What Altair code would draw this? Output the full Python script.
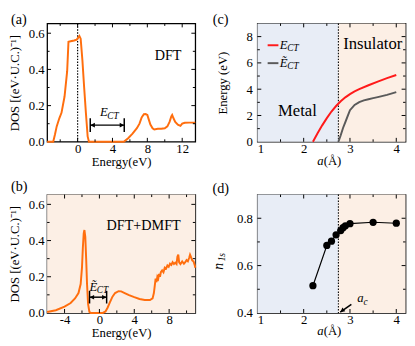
import altair as alt
import pandas as pd

FONT = "Liberation Serif"
W, H = 151.5, 121
ORANGE = "#FF6E0E"
RED = "#FF1A1A"
GREY = "#5A5A5A"
BLUE_BG = "#E8EDF6"
PEACH_BG = "#FCEFE5"

# ---------------- data ----------------
# (a) DFT density of states
a_energy = [-3.5, -2.8, -2.6, -2.4, -2.1, -1.85, -1.5, -1.2, -1.05, -0.8, -0.4, -0.1, 0.1, 0.2, 0.35,
            0.55, 0.75, 0.95, 1.15, 1.3, 5.3, 5.8, 6.3, 6.8, 7.1, 7.35, 7.6, 7.8, 8.0, 8.15, 8.35,
            8.6, 8.8, 9.2, 9.6, 10.0, 10.3, 10.55, 10.75, 10.85, 11.0, 11.2, 11.5, 11.8, 12.0, 12.3,
            12.8, 13.5]
a_dos = [0.0, 0.0, 0.04, 0.085, 0.13, 0.16, 0.25, 0.39, 0.553, 0.556, 0.56, 0.565, 0.578, 0.585, 0.57,
         0.45, 0.3, 0.16, 0.03, 0.0, 0.0, 0.02, 0.045, 0.075, 0.1, 0.135, 0.152, 0.153, 0.148, 0.125,
         0.095, 0.075, 0.068, 0.072, 0.072, 0.075, 0.085, 0.11, 0.14, 0.148, 0.13, 0.11, 0.095, 0.088,
         0.1, 0.105, 0.106, 0.106]
a_ect_span = [1.45, 5.35]
a_ect_level = 0.092

# (b) DFT+DMFT density of states
b_energy = [-6.0, -5.0, -4.0, -3.3, -2.8, -2.4, -2.15, -2.0, -1.9, -1.8, -1.72, -1.62, -1.52, -1.42,
            -1.3, -1.15, -1.0, 0.4, 0.7, 0.95, 1.2, 1.5, 1.8, 2.2, 2.5, 2.9, 3.4, 4.0, 4.6, 5.2, 5.8,
            6.1, 6.25, 6.35, 6.45, 6.55, 6.65, 6.75, 6.85, 6.95, 7.05, 7.2, 7.35, 7.5, 7.65, 7.8, 7.95,
            8.1, 8.25, 8.4, 8.55, 8.7, 8.85, 8.95, 9.05, 9.15, 9.3, 9.5, 9.7, 9.85, 10.0, 10.15, 10.3,
            10.4, 10.5, 10.65, 10.8, 10.95, 11.0]
b_dos = [0.005, 0.015, 0.035, 0.055, 0.08, 0.11, 0.16, 0.25, 0.36, 0.44, 0.458, 0.42, 0.3, 0.16,
         0.05, 0.005, 0.0, 0.0, 0.008, 0.03, 0.058, 0.09, 0.11, 0.12, 0.119, 0.11, 0.098, 0.087, 0.077,
         0.071, 0.071, 0.08, 0.11, 0.15, 0.19, 0.17, 0.2, 0.19, 0.215, 0.2, 0.225, 0.235, 0.225, 0.25,
         0.245, 0.262, 0.255, 0.272, 0.265, 0.28, 0.27, 0.278, 0.27, 0.31, 0.322, 0.28, 0.27, 0.285,
         0.272, 0.28, 0.292, 0.285, 0.305, 0.322, 0.31, 0.29, 0.285, 0.262, 0.25]
b_ect_span = [-1.13, 0.83]
b_ect_level = 0.087

# (c) charge-transfer energies vs a
c_a_red = [2.2, 2.3, 2.4, 2.5, 2.6, 2.7, 2.8, 2.9, 3.0, 3.1, 3.2, 3.4, 3.6, 3.8, 4.0]
c_ect = [0.0, 0.65, 1.25, 1.8, 2.3, 2.72, 3.08, 3.38, 3.62, 3.83, 4.0, 4.3, 4.58, 4.84, 5.08]
c_a_grey = [2.75, 2.8, 2.85, 2.9, 2.95, 3.0, 3.1, 3.2, 3.3, 3.4, 3.5, 3.6, 3.8, 4.0]
c_ect_tilde = [0.0, 0.5, 1.05, 1.5, 1.95, 2.4, 2.8, 3.02, 3.15, 3.24, 3.32, 3.4, 3.57, 3.78]

# (d) occupation n_1s vs a
d_a = [2.2, 2.5, 2.6, 2.7, 2.8, 2.85, 2.9, 3.0, 3.5, 4.0]
d_n1s = [0.515, 0.685, 0.703, 0.73, 0.748, 0.76, 0.768, 0.777, 0.783, 0.779]

a_c = 2.75
regions = ["Metal", "Insulator"]
region_start = [1.0, 2.75]
region_end = [2.75, 4.2]

# ---------------- helpers ----------------
ONE = alt.Data(values=[{}])


def make_xy(xdom, ydom, xaxis, yaxis):
    xs = alt.Scale(domain=xdom, nice=False, zero=False)
    ys = alt.Scale(domain=ydom, nice=False, zero=False)

    def X(f):
        return alt.X(f, type="quantitative", scale=xs, axis=xaxis)

    def Y(f):
        return alt.Y(f, type="quantitative", scale=ys, axis=yaxis)
    return X, Y


def ticks(X, Y, xmaj, xmin, ymaj, ymin):
    layers = []
    for vals, L in ((xmaj, 4), (xmin, 2.5)):
        base = alt.Chart(pd.DataFrame({"v": vals})).mark_rule(color="black", strokeWidth=1)
        layers.append(base.encode(x=X("v"), y=alt.value(H), y2=alt.value(H - L)))
        layers.append(base.encode(x=X("v"), y=alt.value(0), y2=alt.value(L)))
    for vals, L in ((ymaj, 4), (ymin, 2.5)):
        base = alt.Chart(pd.DataFrame({"v": vals})).mark_rule(color="black", strokeWidth=1)
        layers.append(base.encode(y=Y("v"), x=alt.value(0), x2=alt.value(L)))
        layers.append(base.encode(y=Y("v"), x=alt.value(W), x2=alt.value(W - L)))
    return layers


def label(text, x, y, size=13, italic=False, align="left", baseline="alphabetic", angle=0, color="black"):
    kw = dict(text=text, fontSize=size, align=align, baseline=baseline, color=color, font=FONT)
    if italic:
        kw["fontStyle"] = "italic"
    if angle:
        kw["angle"] = angle
    return alt.Chart(ONE).mark_text(**kw).encode(x=alt.value(x), y=alt.value(y))


def gap_arrow(X, Y, span, level, cap):
    df = pd.DataFrame({"x1": [span[0]], "x2": [span[1]], "y": [level]})
    line = alt.Chart(df).mark_rule(color="black", strokeWidth=1.5).encode(
        x=X("x1"), x2=alt.X2("x2"), y=Y("y"))
    caps_df = pd.DataFrame({"x": span, "y1": [level - cap] * 2, "y2": [level + cap] * 2})
    caps = alt.Chart(caps_df).mark_rule(color="black", strokeWidth=1.5).encode(
        x=X("x"), y=Y("y1"), y2=alt.Y2("y2"))
    hl = alt.Chart(pd.DataFrame({"x": [span[0]], "y": [level]})).mark_point(
        shape="M0,0L2,-1L2,1Z", size=22, filled=True, color="black", opacity=1).encode(x=X("x"), y=Y("y"))
    hr = alt.Chart(pd.DataFrame({"x": [span[1]], "y": [level]})).mark_point(
        shape="M0,0L-2,-1L-2,1Z", size=22, filled=True, color="black", opacity=1).encode(x=X("x"), y=Y("y"))
    return [line, caps, hl, hr]


# ---------------- panel (a) ----------------
Xa, Ya = make_xy([-3.5, 13.5], [0, 0.654],
                 alt.Axis(values=[0, 4, 8, 12], title="Energy(eV)", titleY=14.5, labelPadding=0.5),
                 alt.Axis(values=[0, 0.2, 0.4, 0.6], format=".1f", title="DOS [(eV·U.C.)⁻¹]",
                          titlePadding=7, labelPadding=3))
dfa = pd.DataFrame({"e": a_energy, "d": a_dos})
pa = alt.layer(
    alt.Chart(pd.DataFrame({"v": [0]})).mark_rule(color="black", strokeWidth=1.2, strokeDash=[1.5, 1.5]).encode(
        x=Xa("v"), y=alt.value(0), y2=alt.value(H)),
    alt.Chart(dfa).mark_line(color=ORANGE, strokeWidth=2).encode(x=Xa("e"), y=Ya("d")),
    *gap_arrow(Xa, Ya, a_ect_span, a_ect_level, 0.038),
    label("E", 54, 95, 13, italic=True),
    label("CT", 61.5, 97.5, 9.5, italic=True),
    label("DFT", 123.7, 37.7, 14.5, align="center"),
    label("(a)", -37, -10, 14.5, baseline="top"),
    *ticks(Xa, Ya, [0, 4, 8, 12], [-2, 2, 6, 10], [0.2, 0.4, 0.6], [0.1, 0.3, 0.5]),
).properties(width=W, height=H)

# ---------------- panel (b) ----------------
Xb, Yb = make_xy([-6, 11], [0, 0.654],
                 alt.Axis(values=[-4, 0, 4, 8], title="Energy(eV)", titleY=14.5, labelPadding=0.5,
                          labelExpr="replace(datum.label, '\u2212', '-')"),
                 alt.Axis(values=[0, 0.2, 0.4, 0.6], format=".1f", title="DOS [(eV·U.C.)⁻¹]",
                          titlePadding=7, labelPadding=3))
dfb = pd.DataFrame({"e": b_energy, "d": b_dos})
pb = alt.layer(
    alt.Chart(ONE).mark_rect(color=PEACH_BG).encode(x=alt.value(0), x2=alt.value(W), y=alt.value(0), y2=alt.value(H)),
    alt.Chart(dfb).mark_line(color=ORANGE, strokeWidth=2).encode(x=Xb("e"), y=Yb("d")),
    *gap_arrow(Xb, Yb, b_ect_span, b_ect_level, 0.035),
    label("Ẽ", 43.3, 98.4, 13, italic=True),
    label("CT", 50.8, 100.5, 9.5, italic=True),
    label("DFT+DMFT", 98.7, 36, 14.5, align="center"),
    label("(b)", -37, -14.5, 14.5, baseline="top"),
    *ticks(Xb, Yb, [-4, 0, 4, 8], [-2, 2, 6, 10], [0.2, 0.4, 0.6], [0.1, 0.3, 0.5]),
).properties(width=W, height=H)

# ---------------- panel (c) ----------------
Xc, Yc = make_xy([1, 4.2], [0, 9],
                 alt.Axis(values=[1, 2, 3, 4], title=None, labelPadding=0.5),
                 alt.Axis(values=[0, 2, 4, 6, 8], title="Energy (eV)", titlePadding=17.5, labelPadding=5))
dfreg = pd.DataFrame({"r": regions, "x1": region_start, "x2": region_end})
bg_c = alt.Chart(dfreg).mark_rect().encode(
    x=Xc("x1"), x2=alt.X2("x2"), y=alt.value(0), y2=alt.value(H),
    color=alt.Color("r:N", scale=alt.Scale(domain=regions, range=[BLUE_BG, PEACH_BG]), legend=None))
dfc1 = pd.DataFrame({"a": c_a_red, "e": c_ect})
dfc2 = pd.DataFrame({"a": c_a_grey, "e": c_ect_tilde})
pc = alt.layer(
    bg_c,
    alt.Chart(pd.DataFrame({"v": [a_c]})).mark_rule(color="black", strokeWidth=1.1, strokeDash=[1.5, 1.5]).encode(
        x=Xc("v"), y=alt.value(0), y2=alt.value(H)),
    alt.Chart(dfc1).mark_line(color=RED, strokeWidth=2).encode(x=Xc("a"), y=Yc("e")),
    alt.Chart(dfc2).mark_line(color=GREY, strokeWidth=2).encode(x=Xc("a"), y=Yc("e")),
    alt.Chart(ONE).mark_rule(color=RED, strokeWidth=2).encode(x=alt.value(10.5), x2=alt.value(21.5), y=alt.value(22.3)),
    alt.Chart(ONE).mark_rule(color=GREY, strokeWidth=2).encode(x=alt.value(10.5), x2=alt.value(21.5), y=alt.value(40.6)),
    label("E", 23, 26.3, 13, italic=True),
    label("CT", 30.5, 28.5, 9.5, italic=True),
    label("Ẽ", 23, 44.6, 13, italic=True),
    label("CT", 30.5, 46.8, 9.5, italic=True),
    label("Metal", 41, 94.6, 17, align="center"),
    label("Insulator", 118, 26.3, 17, align="center"),
    label("a", 61.2, H + 24, 13, italic=True),
    label("(Å)", 67.8, H + 24, 13),
    label("(c)", -37.5, -10, 14.5, align="center", baseline="top"),
    *ticks(Xc, Yc, [2, 3, 4], [1.5, 2.5, 3.5], [2, 4, 6, 8], [1, 3, 5, 7]),
).properties(width=W, height=H)

# ---------------- panel (d) ----------------
Xd, Yd = make_xy([1, 4.2], [0.4, 0.9],
                 alt.Axis(values=[1, 2, 3, 4], title=None, labelPadding=0.5),
                 alt.Axis(values=[0.4, 0.6, 0.8], format=".1f", title=None, labelPadding=5))
bg_d = alt.Chart(dfreg).mark_rect().encode(
    x=Xd("x1"), x2=alt.X2("x2"), y=alt.value(0), y2=alt.value(H),
    color=alt.Color("r:N", scale=alt.Scale(domain=regions, range=[BLUE_BG, PEACH_BG]), legend=None))
dfd = pd.DataFrame({"a": d_a, "n": d_n1s})
arrow_df = pd.DataFrame({"x1": [2.79], "y1": [0.403], "x2": [3.03], "y2": [0.436]})
pd_ = alt.layer(
    bg_d,
    alt.Chart(pd.DataFrame({"v": [a_c]})).mark_rule(color="black", strokeWidth=1.1, strokeDash=[1.5, 1.5]).encode(
        x=Xd("v"), y=alt.value(0), y2=alt.value(H)),
    alt.Chart(dfd).mark_line(color="black", strokeWidth=1.2).encode(x=Xd("a"), y=Yd("n")),
    alt.Chart(dfd).mark_circle(color="black", size=55, opacity=1).encode(x=Xd("a"), y=Yd("n")),
    alt.Chart(arrow_df).mark_rule(color="black", strokeWidth=1.5).encode(
        x=Xd("x1"), y=Yd("y1"), x2=alt.X2("x2"), y2=alt.Y2("y2")),
    alt.Chart(arrow_df).mark_point(shape="M0,0L2.19,-0.43L0.97,-2.01Z", size=22, filled=True,
                                   color="black", opacity=1).encode(x=Xd("x1"), y=Yd("y1")),
    label("a", 102, 110, 13, italic=True),
    label("c", 108.5, 113, 9.5, italic=True),
    label("n", -35, 73.4, 14, italic=True, align="center", baseline="alphabetic", angle=270),
    label("1s", -33, 64, 9.5, italic=True, align="center", baseline="alphabetic", angle=270),
    label("a", 61.2, H + 22.5, 13, italic=True),
    label("(Å)", 67.8, H + 22.5, 13),
    label("(d)", -37.5, -12.5, 14.5, align="center", baseline="top"),
    *ticks(Xd, Yd, [2, 3, 4], [1.5, 2.5, 3.5], [0.6, 0.8], [0.5, 0.7]),
).properties(width=W, height=H)

chart = alt.concat(pa, pc, pb, pd_, columns=2, spacing={"row": 54, "column": 63}, bounds="flush").properties(
    padding={"left": 0, "top": 0, "right": 0, "bottom": 0}
).configure(font=FONT).configure_view(stroke="black", strokeWidth=1.3).configure_axis(
    ticks=False, domain=False, grid=False, labelFont=FONT, titleFont=FONT, labelFontSize=13,
    titleFontSize=13, titleFontWeight="normal", labelColor="black", titleColor="black"
)

chart.save("out.html", embed_options={"renderer": "svg", "actions": False})
